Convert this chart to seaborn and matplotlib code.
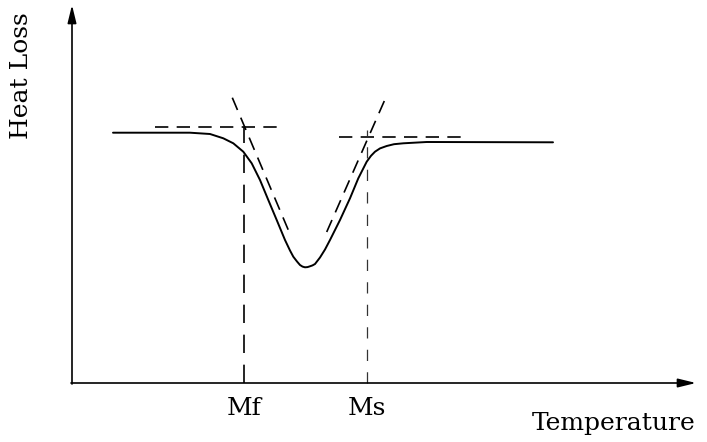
import matplotlib
matplotlib.use("Agg")
import matplotlib.pyplot as plt
import seaborn as sns
import pandas as pd

# Curve (temperature, heat loss) in arbitrary units
temperature = [41, 78, 118, 138, 151.3, 161.3, 171.3, 179.7, 188, 196.3, 204.7, 213,
               218, 221.3, 225, 228, 230.5, 233, 235.5, 238, 240.5, 243, 248, 253, 258,
               268, 278, 286.3, 294.7, 299, 303, 308, 314.7, 322, 331.3, 354.7, 481]
heat_loss = [250.3, 250.3, 250.3, 249, 244.7, 239.7, 231.3, 219.7, 203, 183, 163, 143,
             132.5, 126.3, 121.5, 118, 116.4, 115.7, 115.9, 116.7, 117.6, 119, 125.5, 133.5, 143,
             163, 184.7, 204.7, 221.3, 227.2, 231.3, 234.6, 237, 238.8, 239.7, 241, 240.7]

# Construction lines (tangents, baselines, transition markers)
left_tangent_T = [160.3, 218]
left_tangent_H = [285.3, 149]
right_tangent_T = [312.3, 254.7]
right_tangent_H = [282, 151]
left_base_T = [83, 208]
left_base_H = [256, 256]
right_base_T = [267, 392]
right_base_H = [246.3, 246.3]
mf_T = 172
ms_T = 294.5
mf_top = 256
ms_top = 253
marker_labels = ["Mf", "Ms"]
x_label = "Temperature"
y_label = "Heat Loss"

sns.set_theme(style="white")
plt.rcParams['font.family'] = ['DejaVu Serif']
plt.rcParams['text.color'] = 'black'

fig = plt.figure(figsize=(7.07, 4.42), dpi=100)
ax = fig.add_axes([0, 0, 1, 1])
ax.set_xlim(-72, 635)
ax.set_ylim(-59, 383)
ax.axis("off")

df = pd.DataFrame({"T": temperature, "H": heat_loss})
sns.lineplot(data=df, x="T", y="H", ax=ax, color="black", linewidth=1.4, sort=False,
             solid_joinstyle="round", solid_capstyle="round")

dash = dict(color="black", linewidth=1.2, linestyle=(0, (8, 5)))
ax.plot(left_tangent_T, left_tangent_H, **dash)
ax.plot(right_tangent_T, right_tangent_H, **dash)
ax.plot(left_base_T, left_base_H, **dash)
ax.plot(right_base_T, right_base_H, **dash)
ax.plot([mf_T, mf_T], [0, mf_top], color="black", linewidth=1.2, linestyle=(0, (11, 7)))
ax.plot([ms_T, ms_T], [0, ms_top], color="#333333", linewidth=0.9, linestyle=(0, (9, 9)))

# Axes arrows
arrow = dict(arrowstyle="-|>,head_length=0.9,head_width=0.22", color="black", linewidth=1.2,
             shrinkA=0, shrinkB=0)
ax.annotate("", xy=(624, 0), xytext=(-1, 0), arrowprops=arrow)
ax.annotate("", xy=(0, 378), xytext=(0, -1), arrowprops=arrow)

fs = 18
ax.text(mf_T, -32, marker_labels[0], ha="center", va="baseline", fontsize=fs, color="black")
ax.text(ms_T, -32, marker_labels[1], ha="center", va="baseline", fontsize=fs, color="black")
ax.text(460, -47, x_label, ha="left", va="baseline", fontsize=fs, color="black")
ax.text(-50, 307, y_label, ha="center", va="center", rotation=90, fontsize=fs, color="black")

fig.savefig("out.png", dpi=100)
